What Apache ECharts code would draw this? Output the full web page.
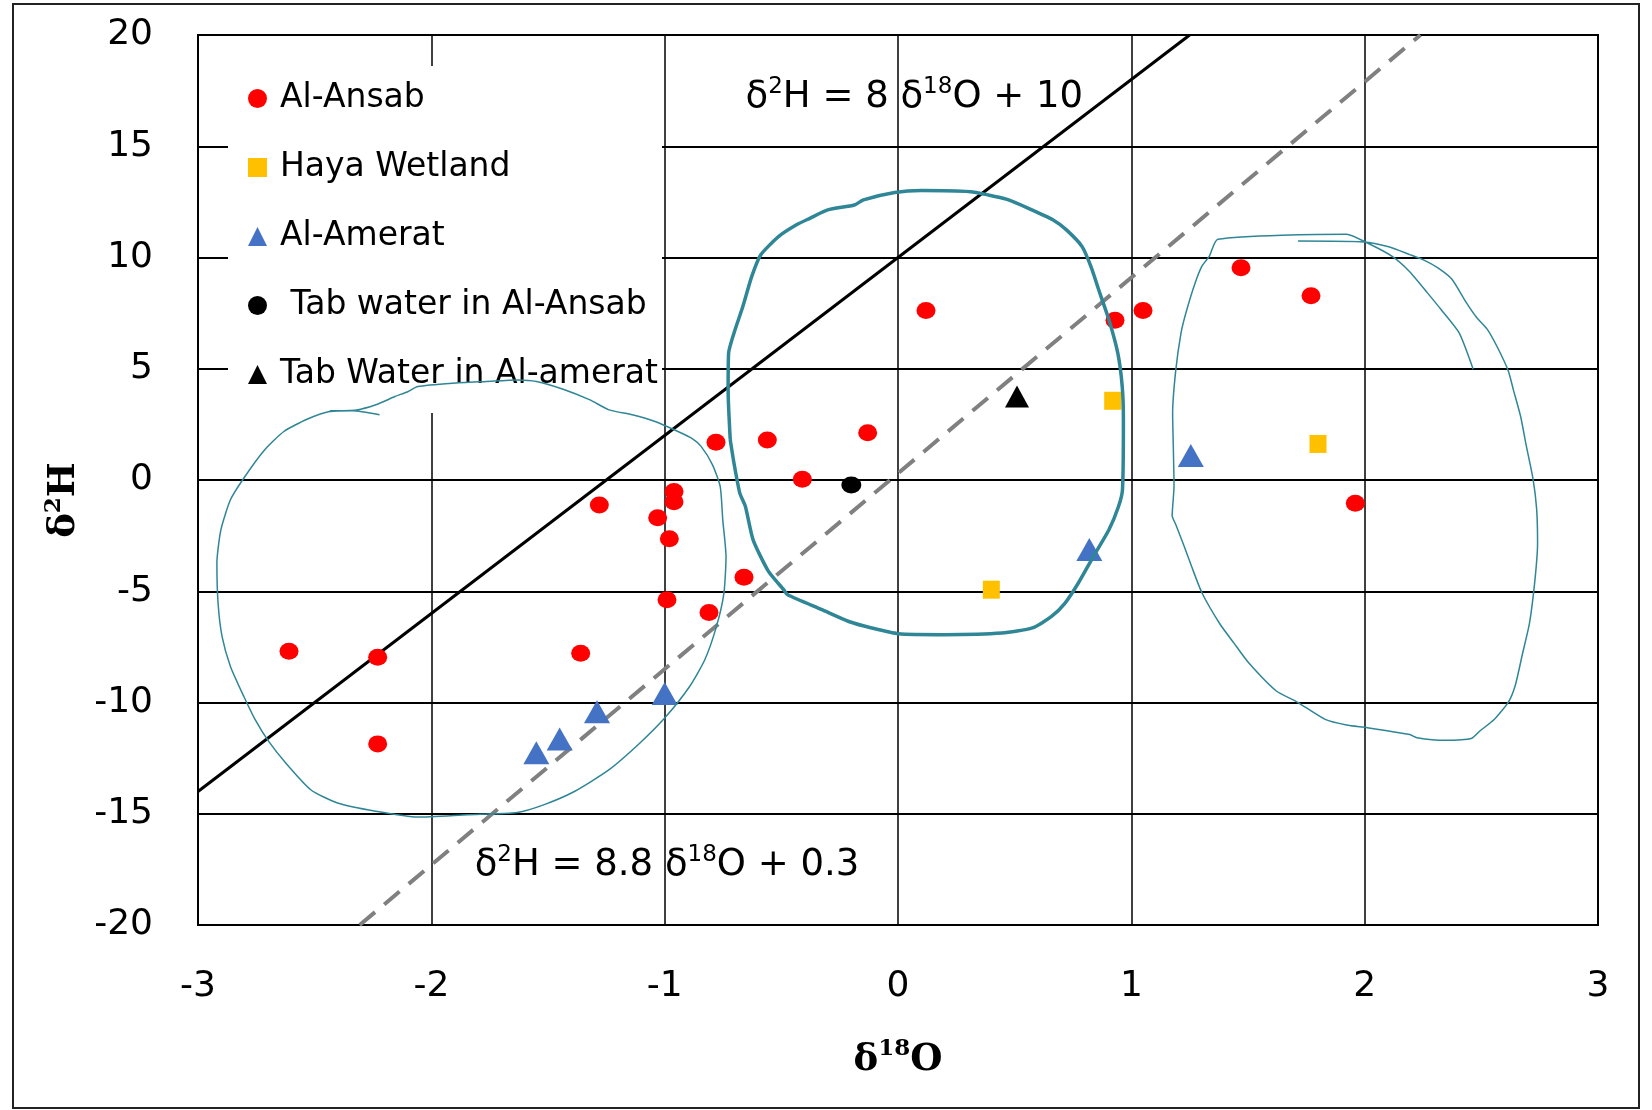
<!DOCTYPE html>
<html>
<head>
    <meta charset="utf-8" />
    <title>δ2H - δ18O</title>
    <script src="https://cdn.jsdelivr.net/npm/echarts@6.0.0/dist/echarts.min.js"></script>
    <style>
        html, body { margin: 0; padding: 0; background: #fff; }
        #main { width: 1652px; height: 1110px; }
    </style>
</head>
<body>
<div id="main"></div>
<script>
    // samples [δ18O, δ2H]
    var alAnsab = [
        [0.12, 7.62], [0.93, 7.18], [1.05, 7.62], [1.47, 9.54], [1.77, 8.28], [1.96, -1.05],
        [-0.78, 1.7], [-0.56, 1.8], [-0.13, 2.12], [-0.41, 0.03], [-1.28, -1.12],
        [-0.96, -0.52], [-0.96, -0.98], [-1.03, -1.7], [-0.98, -2.64], [-0.66, -4.37],
        [-0.99, -5.38], [-0.81, -5.95], [-1.36, -7.79], [-2.61, -7.7], [-2.23, -7.97], [-2.23, -11.86]
    ];
    var hayaWetland = [[0.92, 3.56], [0.4, -4.93], [1.8, 1.62]];
    var alAmerat = [[-1.0, -9.6], [-1.29, -10.42], [-1.45, -11.64], [-1.55, -12.26], [0.82, -3.12], [1.255, 1.1]];
    var tabAnsab = [[-0.2, -0.22]];
    var tabAmerat = [[0.51, 3.75]];

    // meteoric water lines (end points)
    var lineGmwl = [[-3, -14], [1.25, 20]];
    var lineLocal = [[-2.307, -20], [2.239, 20]];

    // hand drawn groupings
    var loopLeft = [
        [-2.222, 2.93], [-2.337, 3.11], [-2.435, 3.08], [-2.533, 2.73], [-2.632, 2.18], [-2.714, 1.36],
        [-2.804, 0.08], [-2.861, -0.89], [-2.902, -2.24], [-2.919, -3.73], [-2.914, -5.53], [-2.897, -7.03],
        [-2.861, -8.38], [-2.804, -9.72], [-2.755, -10.77], [-2.697, -11.75], [-2.624, -12.72], [-2.517, -13.92],
        [-2.402, -14.52], [-2.238, -14.89], [-2.058, -15.15], [-1.845, -15.04], [-1.631, -14.94], [-1.516, -14.59],
        [-1.385, -13.99], [-1.238, -13.02], [-1.106, -11.82], [-1.0, -10.7], [-0.893, -9.28], [-0.828, -8.08],
        [-0.778, -6.58], [-0.746, -5.08], [-0.737, -3.44], [-0.751, -1.79], [-0.762, -0.29], [-0.795, 0.68],
        [-0.844, 1.51], [-0.885, 1.88], [-0.943, 2.18], [-1.041, 2.63], [-1.139, 2.93], [-1.238, 3.15],
        [-1.32, 3.6], [-1.435, 4.08], [-1.549, 4.43], [-1.631, 4.5], [-1.763, 4.43], [-1.91, 4.35],
        [-2.058, 4.2], [-2.099, 3.98], [-2.156, 3.75], [-2.238, 3.38], [-2.32, 3.15], [-2.435, 3.11]
    ];
    var loopMiddle = [
        [-0.719, 1.81], [-0.728, 4.0], [-0.726, 5.7], [-0.703, 6.6], [-0.665, 7.8], [-0.627, 9.14],
        [-0.588, 10.12], [-0.512, 10.94], [-0.435, 11.47], [-0.378, 11.76], [-0.301, 12.14], [-0.187, 12.36],
        [-0.148, 12.59], [-0.014, 12.92], [0.1, 13.01], [0.311, 12.96], [0.387, 12.81], [0.464, 12.62],
        [0.559, 12.21], [0.665, 11.69], [0.722, 11.24], [0.789, 10.49], [0.827, 9.59], [0.865, 8.4],
        [0.904, 7.2], [0.942, 5.7], [0.961, 4.2], [0.966, 2.7], [0.962, -0.44], [0.945, -1.19],
        [0.904, -2.24], [0.838, -3.43], [0.773, -4.63], [0.716, -5.53], [0.658, -6.13], [0.576, -6.65],
        [0.445, -6.88], [0.199, -6.95], [0.002, -6.91], [-0.113, -6.65], [-0.211, -6.36], [-0.326, -5.83],
        [-0.473, -5.16], [-0.49, -4.93], [-0.555, -4.11], [-0.621, -2.69], [-0.654, -1.19], [-0.678, -0.59],
        [-0.703, 0.76], [-0.719, 1.81]
    ];
    var loopRight = [
        [2.465, 4.98], [2.405, 6.61], [2.329, 7.64], [2.269, 8.41], [2.193, 9.36], [2.118, 10.05],
        [2.012, 10.65], [1.922, 11.05], [1.371, 10.82], [1.334, 10.05], [1.303, 9.62], [1.273, 8.84],
        [1.235, 7.55], [1.213, 6.61], [1.19, 4.89], [1.177, 3.0], [1.18, 1.45], [1.183, -0.27],
        [1.175, -1.61], [1.19, -1.99], [1.228, -3.02], [1.258, -3.88], [1.303, -5.08], [1.379, -6.46],
        [1.439, -7.32], [1.5, -8.18], [1.62, -9.47], [1.711, -9.98], [1.831, -10.76], [1.922, -11.01],
        [2.012, -11.13], [2.193, -11.44], [2.224, -11.58], [2.344, -11.7], [2.457, -11.62], [2.495, -11.27],
        [2.555, -10.76], [2.616, -9.98], [2.646, -9.21], [2.676, -7.83], [2.706, -6.46], [2.729, -4.57],
        [2.741, -2.85], [2.737, -1.3], [2.721, 0.08], [2.691, 1.62], [2.669, 2.83], [2.638, 4.03],
        [2.616, 4.89], [2.571, 5.92], [2.525, 6.78], [2.48, 7.3], [2.435, 7.98], [2.374, 9.02],
        [2.314, 9.53], [2.254, 9.88], [2.193, 10.13], [2.103, 10.48], [1.997, 10.7], [1.714, 10.74]
    ];

    // equation labels and where they sit
    var eqTexts = [
        '{t|δ}{s|2}{t|H = 8 δ}{s|18}{t|O + 10}',
        '{t|δ}{s|2}{t|H = 8.8 δ}{s|18}{t|O + 0.3}'
    ];
    var eqPositions = [[0.07, 17.2], [-0.99, -17.33]];

    var seriesNames = ['Al-Ansab', 'Haya Wetland', 'Al-Amerat', ' Tab water in Al-Ansab', 'Tab Water in Al-amerat'];

    var font = 'DejaVu Sans';
    var serif = 'DejaVu Serif';
    var teal = '#2f8696';
    var richText = {
        t: { fontSize: 37, lineHeight: 44, color: '#000', fontFamily: font },
        s: { fontSize: 23, lineHeight: 24, color: '#000', fontFamily: font, verticalAlign: 'top' }
    };
    var richBold = {
        t: { fontSize: 37, lineHeight: 44, color: '#000', fontFamily: serif, fontWeight: 'bold' },
        s: { fontSize: 23, lineHeight: 26, color: '#000', fontFamily: serif, fontWeight: 'bold', verticalAlign: 'top' }
    };

    var myChart = echarts.init(document.getElementById('main'));

    function loop(data, width) {
        return {
            type: 'line',
            data: data,
            symbol: 'none',
            smooth: 0.2,
            silent: true,
            z: 5,
            lineStyle: { color: teal, width: width }
        };
    }

    function points(name, data, symbol, size, color) {
        return {
            name: name, type: 'scatter', data: data, z: 3,
            symbol: symbol, symbolSize: size,
            itemStyle: { color: color, opacity: 1 }
        };
    }

    var option = {
        animation: false,
        textStyle: { fontFamily: font },
        graphic: [{
            type: 'rect',
            silent: true,
            z: -1,
            shape: { x: 13, y: 4, width: 1626, height: 1104 },
            style: { fill: 'none', stroke: '#222', lineWidth: 2 }
        }],
        grid: {
            left: 198, right: 54, top: 35, bottom: 185,
            show: true, borderColor: '#000', borderWidth: 2,
            outerBoundsMode: 'none'
        },
        legend: {
            data: seriesNames,
            orient: 'vertical',
            left: 228,
            top: 66,
            padding: [16, 4, 22, 20],
            backgroundColor: '#fff',
            itemWidth: 19,
            itemHeight: 19,
            itemGap: 36,
            textStyle: { fontSize: 33, lineHeight: 33, color: '#000', fontFamily: font, padding: [0, 0, 0, 8] }
        },
        xAxis: {
            type: 'value',
            min: -3, max: 3, interval: 1,
            name: '{t|δ}{s|18}{t|O}',
            nameLocation: 'middle',
            nameGap: 113,
            nameTextStyle: { rich: richBold },
            axisLine: { show: false },
            axisTick: { show: false },
            axisLabel: { fontSize: 36, color: '#000', margin: 44 },
            splitLine: { lineStyle: { color: '#000', width: 1.5 } }
        },
        yAxis: {
            type: 'value',
            min: -20, max: 20, interval: 5,
            name: '{t|δ}{s|2}{t|H}',
            nameLocation: 'middle',
            nameRotate: 90,
            nameGap: 104,
            nameTextStyle: { rich: richBold, padding: [0, 40, 0, 0] },
            axisLine: { show: false },
            axisTick: { show: false },
            axisLabel: { fontSize: 36, color: '#000', margin: 45 },
            splitLine: { lineStyle: { color: '#000', width: 2 } }
        },
        series: [
            loop(loopLeft, 1.5),
            loop(loopMiddle, 3.5),
            loop(loopRight, 1.5),
            {
                type: 'line', data: lineGmwl, symbol: 'none', silent: true, z: 2,
                lineStyle: { color: '#000', width: 3 }
            },
            {
                type: 'line', data: lineLocal, symbol: 'none', silent: true, z: 2,
                lineStyle: { color: '#808080', width: 4, type: [20, 12] }
            },
            points(seriesNames[0], alAnsab, 'circle', [19, 17], '#ff0000'),
            points(seriesNames[1], hayaWetland, 'rect', [17, 18], '#ffc000'),
            points(seriesNames[2], alAmerat, 'triangle', [26, 23], '#4472c4'),
            points(seriesNames[3], tabAnsab, 'circle', [20, 17], '#000000'),
            points(seriesNames[4], tabAmerat, 'triangle', [24, 22], '#000000'),
            {
                type: 'scatter',
                silent: true,
                symbolSize: 1,
                itemStyle: { color: 'transparent', opacity: 1 },
                data: eqPositions.map(function (p, i) {
                    return {
                        value: p,
                        label: {
                            show: true,
                            position: 'inside',
                            formatter: eqTexts[i],
                            rich: richText
                        }
                    };
                })
            }
        ]
    };

    myChart.setOption(option);
</script>
</body>
</html>
